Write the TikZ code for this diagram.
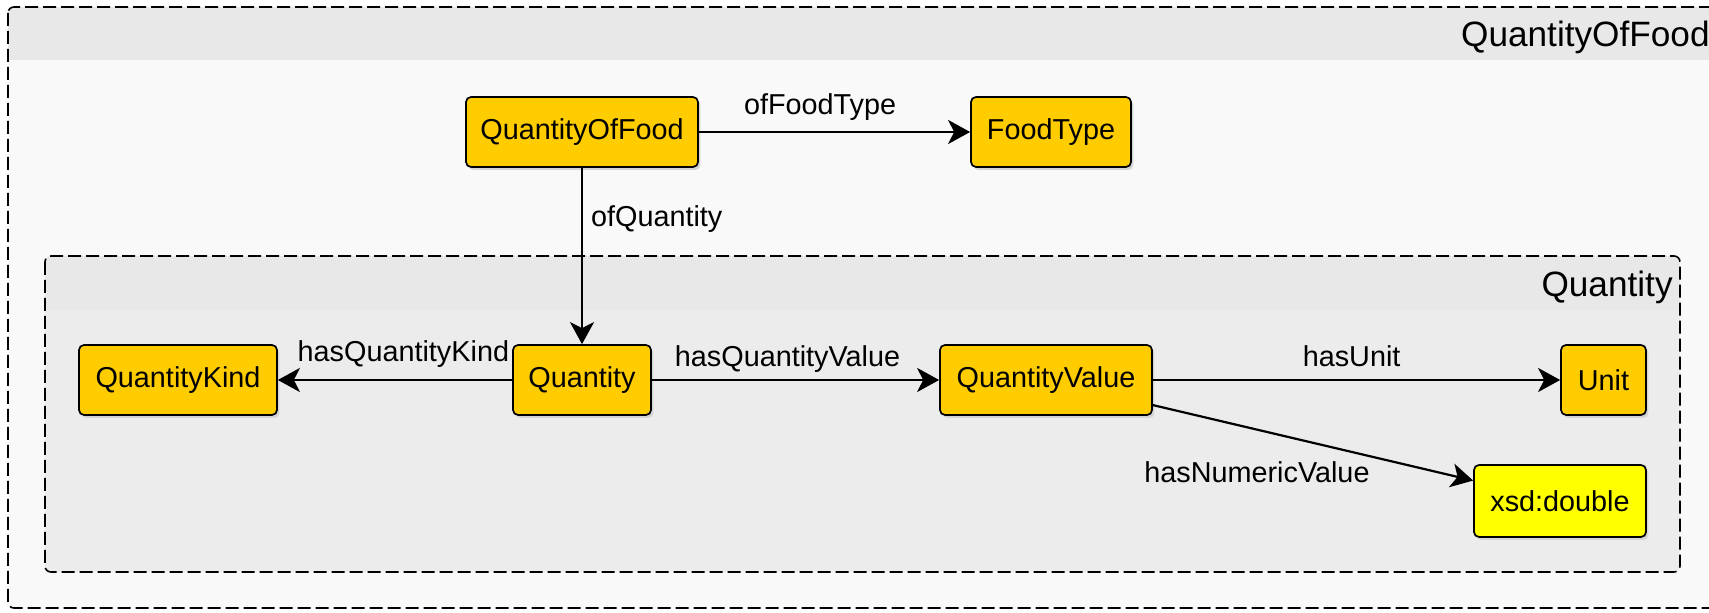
\documentclass[tikz,border=0pt]{standalone}
\usepackage{fontspec}
\setmainfont{Liberation Sans}
\usetikzlibrary{arrows.meta,shadows}

\definecolor{classfill}{HTML}{FFCC00}
\definecolor{datafill}{HTML}{FFFF00}
\definecolor{outerhead}{HTML}{E8E8E8}
\definecolor{outerbody}{HTML}{F9F9F9}
\definecolor{innerhead}{HTML}{E8E8E8}
\definecolor{innerbody}{HTML}{ECECEC}
\definecolor{shadowgray}{HTML}{D4D4D4}

\tikzset{
  groupframe/.style={draw=black, line width=0.8pt, dash pattern=on 6.5pt off 2.5pt, rounded corners=3pt},
  grouptitle/.style={anchor=base east, inner sep=0pt, font=\fontsize{17.6}{20}\selectfont},
  classbox/.style={draw=black, line width=0.85pt, rounded corners=2.5pt, fill=classfill,
    inner sep=0pt, font=\fontsize{14.4}{17}\selectfont,
    drop shadow={shadow xshift=1.2pt, shadow yshift=-1.5pt, fill=shadowgray, opacity=1}},
  databox/.style={classbox, fill=datafill},
  rel/.style={draw=black, line width=1.1pt, -{Stealth[length=11pt, width=12pt, inset=3pt]}},
  lbl/.style={inner sep=0pt, font=\fontsize{14.4}{17}\selectfont}
}

\begin{document}
\begin{tikzpicture}[x=0.5pt, y=-0.5pt]
  \useasboundingbox (0,0) rectangle (1709,613);
  \clip (0,0) rectangle (1709,613);
  \fill[white] (0,0) rectangle (1709,613);

  % outer group: QuantityOfFood
  \begin{scope}
    \clip[rounded corners=3pt] (8,7) rectangle (1760,608);
    \fill[outerbody] (8,7) rectangle (1760,608);
    \fill[outerhead] (8,7) rectangle (1760,60);
  \end{scope}
  \draw[groupframe] (8,7) rectangle (1760,608);
  \node[grouptitle] (outertitle) at (1710,47) {QuantityOfFood};

  % inner group: Quantity
  \begin{scope}
    \clip[rounded corners=3pt] (45,256) rectangle (1680,572);
    \fill[innerbody] (45,256) rectangle (1680,572);
    \fill[innerhead] (45,256) rectangle (1680,310);
  \end{scope}
  \draw[groupframe] (45,256) rectangle (1680,572);
  \node[grouptitle] (innertitle) at (1673,297) {Quantity};

  % classes
  \node[classbox, minimum width=116pt, minimum height=35pt] (qof)  at (582,132)  {QuantityOfFood};
  \node[classbox, minimum width=80pt,  minimum height=35pt] (ft)   at (1051,132) {FoodType};
  \node[classbox, minimum width=99pt,  minimum height=35pt] (qk)   at (178,380)  {QuantityKind};
  \node[classbox, minimum width=69pt,  minimum height=35pt] (q)    at (582,380)  {Quantity};
  \node[classbox, minimum width=106pt, minimum height=35pt] (qv)   at (1046,380) {QuantityValue};
  \node[classbox, minimum width=42.5pt,minimum height=35pt] (unit) at (1603.5,380) {Unit};
  \node[databox,  minimum width=86pt,  minimum height=36pt] (xsd)  at (1560,501) {xsd:double};

  % relations
  \draw[rel] (qof) -- node[lbl, pos=0.447, above=5pt] (l1) {ofFoodType} (ft);
  \draw[rel] (qof) -- node[lbl, pos=0.21, anchor=north west, xshift=4pt] (l2) {ofQuantity} (q);
  \draw[rel] (q) -- node[lbl, pos=0, anchor=base east, xshift=-1pt, yshift=9pt] (l3) {hasQuantityKind} (qk);
  \draw[rel] (q) -- node[lbl, pos=0, anchor=base west, xshift=11pt, yshift=6.5pt] (l4) {hasQuantityValue} (qv);
  \draw[rel] (qv) -- node[lbl, pos=0.488, anchor=base, yshift=6.5pt] (l5) {hasUnit} (unit);
  \draw[rel] (qv) -- node[lbl, pos=0.68, anchor=north east, yshift=-2pt] (l6) {hasNumericValue} (xsd);
\end{tikzpicture}
\end{document}
